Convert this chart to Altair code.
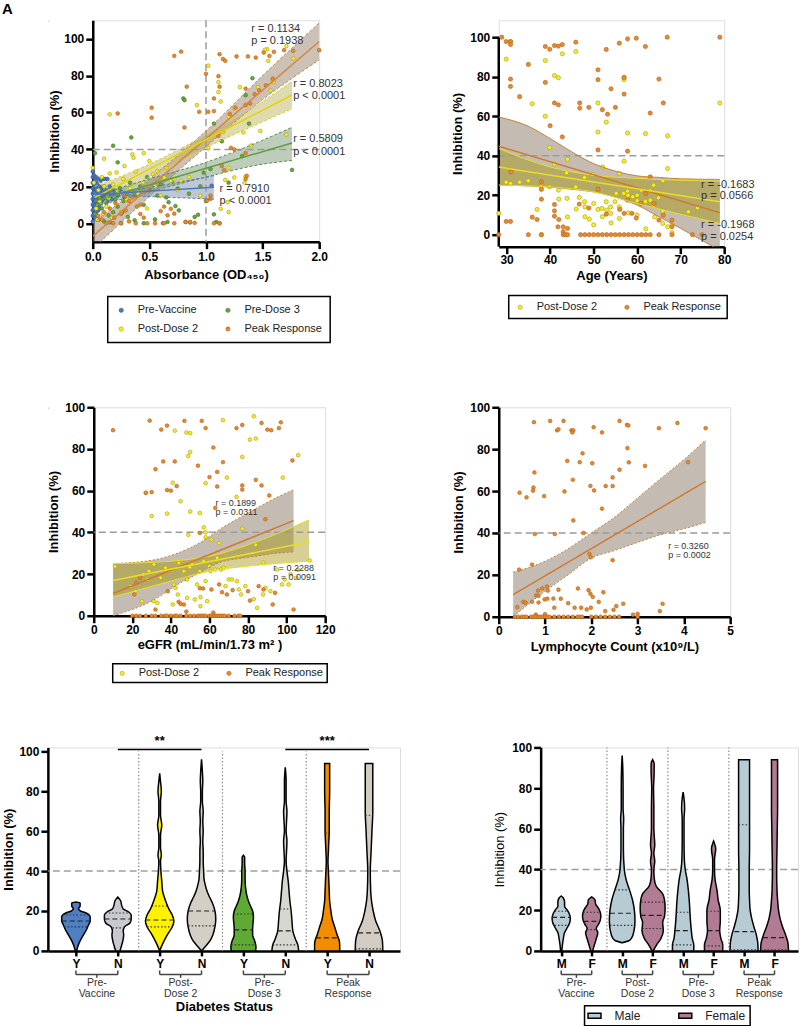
import altair as alt
import pandas as pd

FONT = "Arial"

# ---------------- Panel A : inhibition vs absorbance ----------------
A_PRE_VACCINE = [
    (0.00, 28), (0.00, 25), (0.00, 22), (0.00, 19), (0.00, 16), (0.00, 13), (0.00, 10), (0.00, 7), (0.00, 4), (0.00, 1),
    (0.01, 26), (0.01, 21), (0.01, 17), (0.01, 14), (0.01, 11), (0.01, 8), (0.01, 5),
    (0.02, 24), (0.02, 20), (0.02, 15), (0.02, 12), (0.02, 9), (0.02, 3),
    (0.03, 25), (0.03, 22), (0.03, 18), (0.03, 16), (0.03, 13), (0.03, 6),
    (0.04, 21), (0.04, 17), (0.04, 14), (0.04, 10), (0.04, 2),
    (0.05, 24), (0.05, 19), (0.05, 15), (0.05, 12), (0.05, 7),
    (0.06, 20), (0.06, 16), (0.06, 13), (0.06, 9),
    (0.07, 23), (0.07, 18), (0.07, 14), (0.07, 11),
    (0.08, 19), (0.08, 15), (0.08, 12), (0.09, 24), (0.09, 17), (0.09, 13),
    (0.10, 20), (0.10, 16), (0.11, 14), (0.11, 24), (0.12, 18), (0.12, 15), (0.13, 24), (0.13, 12),
    (0.14, 17), (0.15, 20), (0.16, 15), (0.17, 13), (0.18, 18), (0.20, 16), (0.22, 15), (0.25, 17), (0.28, 14),
    (0.75, 18.7), (1.05, 20.3)]
A_PRE_DOSE3 = [
    (0.02, 38), (0.18, 42), (0.34, 46.5), (0.22, 33), (0.80, 67.6), (0.81, 66.7), (1.41, 78.6), (1.35, 69.4),
    (1.38, 54), (1.07, 54), (1.14, 44.4), (1.32, 36.4), (1.04, 29.4), (0.98, 27.4), (1.76, 28.9), (1.07, 4.8),
    (1.09, 0.7), (1.12, 0), (0.57, 15), (0.67, 11.4), (0.55, 2.1), (0.66, 0.7), (0.73, 9.3), (0.76, 7),
    (0.82, 0.7), (0.86, 0.4), (0.90, 3.4), (0.93, 4.6), (0.37, 1.6), (0.31, 3.4), (0.26, 6), (0.14, 4.3),
    (0.02, 5), (0.04, 10), (0.05, 2), (0.06, 14), (0.08, 8), (0.10, 1), (0.12, 11), (0.15, 18), (0.18, 6),
    (0.20, 13), (0.22, 9), (0.24, 19), (0.27, 12), (0.30, 16), (0.33, 22), (0.38, 15), (0.42, 20), (0.45, 10),
    (0.48, 25), (0.50, 18), (0.60, 21), (0.65, 14), (0.70, 23), (0.85, 16), (0.95, 20), (1.00, 12), (1.20, 22),
    (0.45, 0), (0.62, 0), (0.25, 0), (0.15, 0.5)]
A_POST_DOSE2 = [
    (0.15, 59), (0.21, 27.5), (0.35, 37.3), (0.36, 35.5), (0.45, 38), (0.50, 33.7), (0.53, 26.6), (0.57, 28.3),
    (0.63, 24.8), (0.69, 23), (0.72, 23.9), (0.78, 23), (1.02, 85.4), (1.11, 76.5), (1.11, 71.1), (0.92, 64),
    (1.13, 66), (1.02, 40.8), (1.25, 62.2), (1.30, 73.8), (1.46, 73.8), (1.54, 94.3), (1.71, 96), (1.60, 76.5),
    (1.57, 72), (1.77, 89.3), (1.48, 50), (1.71, 48), (1.25, 24.8), (1.20, 30), (1.13, 7.8), (1.19, 11.4),
    (1.52, 94), (1.55, 88), (1.59, 77.4), (1.20, 57.8), (1.15, 49.4), (1.33, 49.2), (1.40, 42.2), (1.17, 23.5),
    (1.34, 22), (1.35, 25.3), (1.20, 6),
    (0.00, 30), (0.01, 22), (0.02, 15), (0.03, 8), (0.04, 2), (0.05, 18), (0.06, 12), (0.08, 25), (0.09, 5),
    (0.10, 20), (0.12, 9), (0.13, 14), (0.15, 27), (0.17, 3), (0.18, 21), (0.20, 11), (0.22, 17), (0.25, 6),
    (0.27, 24), (0.30, 13), (0.33, 19), (0.40, 16), (0.45, 22), (0.48, 8), (0.55, 20), (0.60, 15), (0.65, 30),
    (0.75, 18), (0.85, 25), (0.95, 15), (0.38, 28), (0.28, 31), (0.10, 35)]
A_PEAK = [
    (0.72, 90.7), (0.78, 93), (1.00, 81), (0.83, 74), (1.02, 60.4), (0.94, 60.4), (0.52, 62.6), (0.52, 57.2),
    (0.22, 59.5), (0.81, 51.9), (1.12, 91.6), (1.15, 89), (1.17, 88), (1.27, 90.4), (1.37, 90.4), (1.44, 89.8),
    (1.51, 92.5), (1.56, 90.7), (1.60, 92.9), (1.69, 93.8), (1.77, 93.4), (2.00, 93.8), (1.11, 79.7), (1.12, 74),
    (1.35, 72.9), (1.47, 72), (1.53, 74.7), (1.07, 67.6), (1.26, 62.6), (1.35, 64), (1.39, 64.9), (1.11, 47.4),
    (1.22, 40.8), (1.25, 40), (1.35, 38), (1.36, 25.7), (1.35, 23.9), (1.14, 31), (1.04, 15), (1.04, 13.2),
    (0.82, 0.7), (0.86, 0.7), (0.90, 0.2), (1.07, 0), (1.12, 0), (0.60, 6.6), (0.63, 9), (0.69, 7.8), (0.72, 5.2),
    (0.66, 4.3), (0.55, 0), (0.63, 0), (0.72, 0), (0.42, 5), (0.45, 3), (0.48, 0), (0.38, 0), (0.32, 1), (0.25, 0),
    (0.18, 0), (0.12, 0), (0.08, 2), (0.32, 12), (0.35, 14), (0.39, 9), (0.29, 7), (0.25, 5), (0.19, 3), (0.15, 8),
    (0.10, 6), (0.05, 4), (0.20, 11), (0.28, 15), (0.35, 17), (0.42, 10), (1.59, 78.3), (1.43, 69.9), (1.21, 59.2),
    (1.07, 60.8), (1.16, 28.7), (1.01, 12.3)]
A_SERIES = ["Pre-Vaccine", "Pre-Dose 3", "Post-Dose 2", "Peak Response"]
A_FILLS = ["#4c78c0", "#67a540", "#f5ef1f", "#e8892b"]
A_STROKES = ["#2f5596", "#3f7a25", "#a79e12", "#b4621a"]
# regression fits (x, y) and confidence bands (x, lower, upper)
A_FIT_PREVAC = [(0.0, 15.5), (1.07, 19.5)]
A_BAND_PREVAC = [(0.0, 14.5, 16.5), (0.3, 14.8, 17.5), (0.6, 14.2, 20.5), (1.07, 13.0, 25.8)]
A_FIT_PRED3 = [(0.02, 12.0), (1.76, 43.5)]
A_BAND_PRED3 = [(0.02, 9, 15), (0.5, 17, 24), (1.0, 25, 33), (1.5, 32, 45), (1.76, 34, 52)]
A_FIT_POST2 = [(0.02, 14.0), (1.76, 69.5)]
A_BAND_POST2 = [(0.02, 9, 20), (0.5, 25, 32), (1.0, 41, 48), (1.5, 55, 66), (1.76, 62, 77)]
A_FIT_PEAK = [(0.0, -7.0), (2.0, 98.5)]
A_BAND_PEAK = [(0.0, -14, 0), (0.5, 14.5, 24), (1.0, 41.5, 50), (1.5, 67, 80), (2.0, 88.5, 108.5)]
A_NOTES = [("r = 0.1134", 1.40, 105.3), ("p = 0.1938", 1.40, 99.0), ("r = 0.8023", 1.77, 75.4),
           ("p < 0.0001", 1.77, 69.0), ("r = 0.5809", 1.77, 45.5), ("p < 0.0001", 1.77, 38.5),
           ("r = 0.7910", 1.12, 18.7), ("p < 0.0001", 1.12, 12.3)]

# ---------------- Panel B : inhibition vs age ----------------
B_POST_DOSE2 = [
    (29.9, 88.9), (30.9, 97.8), (38.9, 88.2), (42.8, 91.6), (45.9, 92.8), (41, 80.6), (41.9, 79.5), (57, 79.8),
    (57, 78.5), (35.9, 66.3), (51, 66.7), (79, 66.7), (38.9, 60), (52.9, 57), (39.9, 44.1), (51, 52), (57.8, 51.5),
    (61.9, 51.2), (67, 50), (44, 38.2), (57, 37.2), (67, 33.5), (41, 35.7), (43.8, 31.3), (47.9, 29), (49.8, 30.5),
    (52.1, 34.3), (55.9, 31), (65.9, 27.3), (63.8, 25.1), (71.8, 11.6), (73.9, 13.6),
    (29.9, 26.6), (30.9, 25.9), (33, 26.6), (35, 27.3), (38, 24.2), (39.9, 24.2), (41.9, 22.6), (43.9, 18.4),
    (45.9, 24.2), (46.7, 18.9), (47.9, 16.7), (48, 14.1), (48, 9.1), (49, 7.9), (50, 15.8), (51, 12.8), (51.9, 13.3),
    (52, 9.1), (52.9, 16.7), (53, 12.5), (53.9, 14.1), (53.9, 10.8), (54.9, 16.7), (55.2, 20.9), (55.9, 14.1),
    (55.9, 8.2), (56.9, 20.9), (57.8, 22), (57.9, 20), (59, 19.2), (60, 20), (60, 17.2), (61, 22.6), (61.9, 16.7),
    (63, 17.5), (63, 22.2), (63.8, 15), (64.9, 18.7), (65.9, 12), (65.9, 5.7), (67, 4), (68, 4.9),
    (28.2, 10.8), (38, 0), (37, 12.8), (42, 18), (44, 9), (46, 13), (50, 5), (54, 6), (58, 11), (60, 10), (62, 3),
    (64, 9), (68, 1)]
B_PEAK = [
    (28.9, 100), (29.9, 97.8), (30.9, 97.8), (30.9, 96.3), (38.9, 95.3), (39.9, 93.9), (41, 95.8), (41.9, 95.5),
    (42.8, 96.3), (45.9, 97.5), (57.8, 99.2), (59.8, 99.5), (52.9, 93.8), (55.9, 97), (61.9, 95.3), (66.9, 100),
    (79, 100), (35, 86.2), (30.9, 78.8), (30.9, 75.1), (38.9, 77.1), (33, 69.9), (41, 66.7), (41.9, 65.8),
    (46.8, 66.7), (46.8, 64.1), (48.9, 64.5), (51, 83.5), (51, 78.5), (53.2, 61), (52, 63.3), (54, 73.9), (55, 64.5),
    (57, 79.5), (57, 71.2), (63, 61.6), (65, 78.8), (66, 66.7), (40, 55.2), (42.8, 49.5), (51, 42.9), (57.8, 42.3),
    (31, 31.8), (38, 26.8), (38, 22.9), (38, 18), (41, 15.3), (41, 12.1), (41, 9.4), (42, 7.7), (37, 7.7), (35.9, 8.9),
    (29.9, 6.7), (30.9, 6.7), (46.7, 15.5), (48.9, 13.5), (51, 23), (52.9, 10.4), (56, 12.8), (57, 10.8), (57.8, 17.5),
    (58.8, 10.8), (59.8, 8.4), (60.9, 15.8), (62, 20.9), (63.9, 15.8), (65, 7.4), (66, 9.9), (68, 7.4), (68, 4),
    (63, 29.3), (41.8, 4), (43, 4), (44, 3.2), (43, 1.5),
    (28.2, 0), (35, 0), (38, 0), (43, 0), (43.5, 0), (44, 0), (47, 0), (48, 0), (49, 0), (50, 0), (51, 0), (52, 0),
    (53, 0), (54, 0), (55, 0), (56, 0), (57, 0), (58, 0), (59, 0), (60, 0), (61, 0), (62, 0), (63, 0), (65, 0),
    (68, 0), (72.7, 0), (74.9, 0)]
B_FIT_PEAK = [(28.2, 44.8), (79, 11.1)]
B_BAND_PEAK = [(28.2, 25.2, 59.6), (35, 24.7, 54.9), (40, 24.1, 48.7), (45, 23.0, 41.9), (50, 21.7, 36.0),
               (55, 19.0, 32.2), (60, 15.0, 29.8), (65, 9.1, 29.0), (70, 3.2, 28.3), (79, -8.0, 28.0)]
B_FIT_POST2 = [(28.2, 34.3), (79, 16.7)]
B_BAND_POST2 = [(28.2, 25.1, 43.6), (40, 24.2, 34.3), (50, 21.7, 30.1), (60, 15.8, 28.5), (79, 5.7, 27.1)]
B_NOTES = [("r = -0.1683", 74.7, 25.3), ("p = 0.0566", 74.7, 19.7),
           ("r = -0.1968", 74.7, 5.0), ("p = 0.0254", 74.7, -1.0)]

# ---------------- Panel C : inhibition vs eGFR ----------------
C_POST_DOSE2 = [
    (83, 95.7), (67, 93.8), (42, 88.8), (48, 87.9), (50, 87.6), (81, 84.5), (84, 85), (77, 76.2), (106, 77), (50, 78.5),
    (49, 76.6), (69, 66.3), (98, 66.3), (58, 63.6), (41, 63.8), (27, 58.9), (45, 54.9), (38, 49), (50, 50), (55, 49.3),
    (30, 47.8), (74, 57), (57, 42.4), (49, 38.8), (58, 37.6), (61, 36.5), (65, 34.8), (84, 34), (88, 25.5), (102, 20),
    (99, 17.4), (106, 22), (112, 26.5), (11, 23.7),
    (19.1, 14.2), (21.7, 11.8), (25.7, 19.8), (27.8, 17.4), (28.6, 21.4), (31.2, 24.6), (34.7, 18.2), (37.2, 23),
    (39.5, 22), (41.6, 15), (42.4, 13.4), (44.1, 25.4), (46.7, 21.4), (48.4, 17.4), (49.8, 23.3), (51, 24.6),
    (53.6, 15), (55, 21.4), (57, 26.2), (58, 16.6), (60, 23.8), (60.5, 21.4), (63, 22.2), (64, 27.8), (66, 22.2),
    (67.4, 23), (68.3, 14.2), (70, 17.4), (71.7, 17.4), (74.3, 16.6), (75.2, 12.6), (76.4, 10.2), (78.6, 14.2),
    (83, 8), (84.7, 3.8), (87.8, 10.2), (89, 13.4), (91.6, 11.8), (95, 22.2), (97.6, 15), (101, 15), (105, 18.2),
    (25, 7), (31, 7), (33, 6.2), (41, 5.4), (43.6, 10.2), (48.4, 8.6), (52.4, 7.8), (55.3, 8.9), (58.8, 7), (55.3, 4.6),
    (77, 41.8), (58, 40)]
C_PEAK = [
    (10, 89), (29, 93.6), (35, 89.3), (38, 91.2), (47, 93.5), (56, 93.5), (58, 90), (74, 90), (77, 91.5), (87, 92.5),
    (90, 89.3), (92, 89), (97, 92.8), (96, 90), (36, 74), (42, 74), (32, 70.3), (54, 72), (62, 80.7), (67, 73.7),
    (64, 69), (60, 66.5), (64, 62), (77, 62.5), (77, 60.5), (87, 62.5), (84, 65.2), (103, 74.5), (30, 59.3), (27, 59),
    (38, 60.3), (40, 60), (43, 62.2), (63, 51.7), (89, 46.3), (91, 57.7), (55, 39.7), (21, 10.2), (22, 15.8), (24, 18.2),
    (38.4, 11.8), (44, 6.7), (45, 5.7), (46.7, 5.4), (55, 13.2), (56.7, 13.1), (61, 12.6), (66.5, 11.3), (65, 15),
    (69, 10.2), (72, 12.3), (80, 11.8), (81, 7.3), (85.5, 14.2), (88, 12.6), (92.8, 5.4), (94, 11), (103.6, 3),
    (32, 3), (48, 2), (62, 1.5),
    (20, 0), (22, 0), (24, 0), (27, 0), (30, 0), (32, 0), (35, 0), (37, 0), (38, 0), (40, 0), (42, 0), (43, 0), (45, 0),
    (48, 0), (50, 0), (52, 0), (54, 0), (55, 0), (56, 0), (57, 0), (58, 0), (60, 0), (61, 0), (62, 0), (63, 0), (64, 0),
    (65, 0), (66, 0), (67, 0), (68, 0), (70, 0), (73, 0), (75, 0), (76, 0)]
C_FIT_PEAK = [(10, 10.7), (103.6, 45.6)]
C_BAND_PEAK = [(10, 0, 25), (30, 7, 26.6), (45, 15.8, 30.6), (55, 20.6, 35), (65, 25.4, 41.3), (80, 28, 49.3),
               (95, 30, 56.8), (103.6, 30.6, 60.4)]
C_FIT_POST2 = [(10, 16.9), (111.6, 35.4)]
C_BAND_POST2 = [(10, 9, 25), (40, 16.6, 26.2), (60, 21.4, 28.5), (80, 23.8, 34), (111.6, 26.2, 46)]
C_NOTES = [("r = 0.1899", 63.1, 54.0), ("p = 0.0311", 63.1, 49.8),
           ("r = 0.2288", 93.1, 23.0), ("p = 0.0091", 93.1, 18.7)]

# ---------------- Panel D : inhibition vs lymphocyte count ----------------
D_PEAK = [
    (0.76, 92.9), (1.11, 93.5), (1.40, 93.5), (1.26, 89), (1.29, 89.5), (1.57, 89), (1.61, 89), (1.59, 88), (2.05, 90.5),
    (2.23, 88), (2.61, 93.5), (2.77, 91.6), (2.80, 91.3), (3.46, 90), (3.86, 92.5), (4.47, 90), (1.81, 78), (2.78, 80.5),
    (1.48, 74.4), (1.75, 73.8), (2.02, 73.3), (2.81, 73.7), (3.16, 72), (4.09, 73.8), (2.61, 70.2), (0.77, 68.9),
    (1.60, 65.4), (2.46, 66.5), (1.98, 62.5), (2.06, 60.3), (2.31, 62.4), (2.46, 62.4), (0.75, 61.7), (0.74, 60.2),
    (1.42, 59.8), (0.45, 59.2), (0.60, 57), (0.98, 57.6), (2.23, 51.6), (1.61, 46), (0.78, 39.5), (1.21, 39.5),
    (1.83, 40), (1.96, 30), (1.99, 28.4), (2.46, 27), (0.44, 22.5), (0.72, 24.9),
    (0.94, 13.5), (1.04, 14.4), (1.06, 12.5), (0.85, 12.5), (0.81, 10.2), (0.86, 10), (1.29, 12.9), (1.71, 13.5),
    (1.94, 12.7), (1.98, 11), (2.03, 9.5), (2.26, 11.7), (0.53, 7.1), (0.58, 6.7), (0.72, 7.1), (0.86, 6.8), (0.99, 8.3),
    (1.05, 8.6), (1.18, 8.7), (1.34, 8.6), (1.20, 4.3), (0.40, 4.6), (1.50, 6.5), (1.64, 4.3), (1.78, 4.3), (1.90, 3.5),
    (1.99, 4.3), (2.16, 7.1), (2.30, 2.7), (2.48, 3.3), (2.54, 5.1), (2.69, 6.2), (3.48, 2.7), (3.54, 6.2), (3.00, 1.4),
    (0.80, 1), (1.00, 1.2), (2.90, 1),
    (0.35, 0), (0.42, 0), (0.50, 0), (0.55, 0), (0.60, 0), (0.70, 0), (0.75, 0), (0.80, 0), (0.85, 0), (0.90, 0),
    (0.95, 0), (1.00, 0), (1.05, 0), (1.10, 0), (1.20, 0), (1.30, 0), (1.40, 0), (1.50, 0), (1.60, 0), (1.70, 0),
    (1.75, 0), (1.80, 0), (2.00, 0), (2.10, 0), (2.20, 0), (2.30, 0), (2.40, 0), (2.50, 0), (2.60, 0), (3.00, 0)]
D_FIT = [(0.31, 10.6), (4.47, 64.6)]
D_BAND = [(0.31, 0, 21.3), (1.0, 12.2, 26.5), (1.5, 20, 32.5), (2.0, 28, 40), (2.5, 31.6, 47.5), (3.0, 35.5, 56.7),
          (3.5, 39.2, 66), (4.0, 42, 75), (4.47, 45, 84.4)]
D_NOTES = [("r = 0.3260", 3.66, 33.8), ("p = 0.0002", 3.66, 29.5)]

# ---------------- Panels E / F : violins (y %, half width in category units) ----------------
E_IDS = ["Pre-Vaccine Y", "Pre-Vaccine N", "Post-Dose 2 Y", "Post-Dose 2 N",
         "Pre-Dose 3 Y", "Pre-Dose 3 N", "Peak Response Y", "Peak Response N"]
E_COLORS = ["#4f7fc3", "#c8c8cf", "#fff100", "#d3cfc5", "#5faa33", "#d4d8ce", "#f28c00", "#d3ccc3"]
E_PV_Y = [(0, 0), (0.5, .02), (2, .04), (5, .10), (8, .18), (11, .26), (13, .30), (15, .34), (17, .34), (19, .24),
          (20, .11), (21, .06), (22.5, .10), (24, .10), (24.5, 0)]
E_PV_N = [(0, .05), (2, .08), (5, .12), (8, .14), (10, .13), (12, .16), (14, .29), (16, .32), (18, .32), (19.5, .26),
          (21, .13), (23, .09), (25, .07), (27, 0)]
E_PD2_Y = [(0, 0), (3, .06), (6, .13), (9, .21), (12, .30), (15, .34), (18, .30), (21, .22), (24, .16), (27, .11),
           (30, .07), (35, .05), (40, .03), (45, .02), (48, .04), (52, .02), (58, .02), (63, .05), (68, .02), (75, .02),
           (80, .04), (85, .02), (89, 0)]
E_PD2_N = [(0, 0), (2, .08), (5, .20), (8, .27), (12, .32), (16, .34), (20, .32), (24, .26), (27, .19), (30, .13),
           (33, .09), (36, .06), (40, .05), (45, .04), (50, .04), (55, .03), (60, .04), (65, .03), (70, .04), (75, .02),
           (80, .02), (85, .03), (90, .02), (96, 0)]
E_PD3_Y = [(0, .29), (2, .30), (5, .27), (8, .22), (11, .22), (14, .23), (17, .24), (20, .22), (22, .18), (25, .12),
           (28, .08), (32, .05), (36, .04), (40, .04), (44, .03), (47, .03), (48, 0)]
E_PD3_N = [(0, .32), (3, .30), (6, .24), (10, .18), (15, .16), (20, .14), (25, .11), (30, .09), (35, .07), (40, .04),
           (45, .02), (50, .03), (55, .04), (60, .02), (65, .03), (70, .04), (75, .02), (80, .02), (85, .02), (92, 0)]
E_PK_Y = [(0, .30), (3, .30), (5, .29), (8, .24), (12, .18), (16, .12), (20, .09), (25, .06), (30, .05), (35, .04),
          (40, .03), (45, .02), (50, .03), (55, .04), (60, .05), (70, .05), (80, .06), (90, .06), (94, .06)]
E_PK_N = [(0, .33), (5, .32), (10, .26), (15, .16), (20, .10), (25, .06), (30, .04), (40, .03), (50, .05), (60, .07),
          (70, .09), (80, .09), (90, .09), (94, .09)]
E_VIOLINS = [E_PV_Y, E_PV_N, E_PD2_Y, E_PD2_N, E_PD3_Y, E_PD3_N, E_PK_Y, E_PK_N]
# (category position, y, half width, kind)  m = median (dashed), q = quartile (dotted)
E_QUART = [(1, 12, .28, "q"), (1, 15, .34, "m"), (1, 18, .32, "q"),
           (2, 11.5, .13, "q"), (2, 16, .32, "m"), (2, 19, .30, "q"),
           (3, 12, .30, "q"), (3, 15.5, .34, "m"), (3, 22.5, .19, "q"),
           (4, 12.5, .32, "q"), (4, 20, .32, "m"),
           (5, 3, .29, "q"), (5, 10.5, .22, "m"), (5, 18.5, .24, "q"),
           (6, 3, .30, "q"), (6, 10, .18, "m"), (6, 21, .13, "q"),
           (7, 6.5, .27, "m"), (7, 59, .05, "q"),
           (8, 1, .33, "q"), (8, 9, .26, "m"), (8, 68, .09, "q")]
E_SIG = [(2, 4, "**"), (6, 8, "***")]

F_IDS = ["Pre-Vaccine M", "Pre-Vaccine F", "Post-Dose 2 M", "Post-Dose 2 F",
         "Pre-Dose 3 M", "Pre-Dose 3 F", "Peak Response M", "Peak Response F"]
F_SEX = ["Male", "Female", "Male", "Female", "Male", "Female", "Male", "Female"]
F_COLORS = ["#b6cbd3", "#b07b93"]
F_PV_M = [(0, .02), (3, .04), (6, .07), (9, .11), (12, .22), (14, .28), (16, .30), (18, .27), (20, .20), (22, .11),
          (24, .11), (26, .07), (27, 0)]
F_PV_F = [(0, .03), (3, .09), (6, .15), (9, .20), (11, .15), (13, .22), (15, .28), (17, .30), (19, .28), (21, .22),
          (23, .13), (25, .11), (26.5, 0)]
F_PD2_M = [(4, 0), (5, .22), (6, .30), (10, .39), (15, .42), (20, .40), (25, .34), (30, .24), (35, .13), (40, .07),
           (50, .04), (60, .04), (65, .05), (70, .03), (80, .03), (90, .02), (96, 0)]
F_PD2_F = [(0, .02), (3, .13), (6, .27), (10, .35), (14, .33), (17, .39), (21, .41), (25, .39), (28, .33), (32, .11),
           (36, .05), (40, .04), (44, .07), (48, .04), (52, .07), (60, .04), (70, .04), (80, .03), (88, .05), (92, .05),
           (94, 0)]
F_PD3_M = [(0, .35), (3, .35), (6, .30), (10, .27), (15, .24), (20, .22), (25, .20), (30, .17), (35, .13), (40, .07),
           (45, .04), (55, .03), (65, .03), (70, .05), (75, .03), (78, 0)]
F_PD3_F = [(0, .30), (3, .30), (6, .24), (10, .20), (15, .22), (20, .22), (25, .15), (30, .11), (35, .05), (40, .03),
           (45, .03), (50, .07), (54, 0)]
F_PK_M = [(0, .46), (4, .45), (8, .40), (12, .32), (16, .25), (20, .20), (25, .18), (30, .17), (40, .17), (50, .18),
          (60, .18), (70, .18), (80, .18), (90, .18), (94, .18)]
F_PK_F = [(0, .46), (4, .44), (8, .36), (12, .26), (16, .18), (20, .13), (25, .10), (30, .08), (40, .07), (50, .08),
          (60, .09), (70, .10), (80, .10), (90, .10), (94, .10)]
F_VIOLINS = [F_PV_M, F_PV_F, F_PD2_M, F_PD2_F, F_PD3_M, F_PD3_F, F_PK_M, F_PK_F]
F_QUART = [(1, 12.5, .22, "q"), (1, 16.5, .30, "m"), (1, 19.5, .22, "q"),
           (2, 10.5, .16, "q"), (2, 14.5, .27, "m"), (2, 19, .28, "q"),
           (3, 12.5, .40, "q"), (3, 18.5, .40, "m"), (3, 30, .24, "q"),
           (4, 11, .34, "q"), (4, 17.5, .39, "m"), (4, 24, .38, "q"),
           (5, 3, .35, "q"), (5, 10, .27, "m"), (5, 19, .22, "q"),
           (6, 2.5, .30, "q"), (6, 10, .20, "m"), (6, 19.5, .22, "q"),
           (7, 0.5, .46, "q"), (7, 9.5, .32, "m"), (7, 62, .18, "q"),
           (8, 0.5, .46, "q"), (8, 6.5, .38, "m")]
GROUP_LABELS = [("Pre-", "Vaccine"), ("Post-", "Dose 2"), ("Pre-", "Dose 3"), ("Peak", "Response")]
DIVIDERS = [2.5, 4.5, 6.5]
PCT_TICKS = [0, 20, 40, 60, 80, 100]


# ---------------- helpers ----------------
def axis(title, values, fmt=None, **kw):
    d = dict(title=title, values=values, grid=False, domainColor="black", domainWidth=2.5,
             tickColor="black", tickWidth=2.5, tickSize=7, labelFont=FONT, labelFontSize=12,
             labelFontWeight="bold", labelColor="black", labelFlush=False, labelOverlap=False,
             labelPadding=2, titleFont=FONT, titleFontSize=13, titleFontWeight="bold", titleColor="black")
    if fmt:
        d["format"] = fmt
    d.update(kw)
    return alt.Axis(**d)


def enc(X, Y, xf="x:Q", yf="y:Q"):
    return dict(x=alt.X(xf, scale=X[0], axis=X[1]), y=alt.Y(yf, scale=Y[0], axis=Y[1]))


def df_xy(pairs, **extra):
    d = pd.DataFrame({"x": [p[0] for p in pairs], "y": [p[1] for p in pairs]})
    for k, v in extra.items():
        d[k] = v
    return d


def band_layers(rows, X, Y, fill, op, edge, dash):
    d = pd.DataFrame({"x": [r[0] for r in rows], "lo": [r[1] for r in rows], "hi": [r[2] for r in rows]})
    area = alt.Chart(d).mark_area(fill=fill, opacity=op, clip=True, interpolate="monotone").encode(
        **enc(X, Y, yf="lo:Q"), y2="hi:Q")
    lk = dict(color=edge, strokeWidth=1, clip=True, interpolate="monotone")
    if dash:
        lk["strokeDash"] = dash
    lo = alt.Chart(d).mark_line(**lk).encode(**enc(X, Y, yf="lo:Q"))
    hi = alt.Chart(d).mark_line(**lk).encode(**enc(X, Y, yf="hi:Q"))
    return area, [lo, hi]


def fit_layer(pairs, X, Y, color):
    return alt.Chart(df_xy(pairs)).mark_line(color=color, strokeWidth=1.5, clip=True).encode(**enc(X, Y))


def hline(val, Y, color="#9b9b9b"):
    return alt.Chart(pd.DataFrame({"y": [val]})).mark_rule(
        color=color, strokeDash=[7, 4], strokeWidth=1.5).encode(y=alt.Y("y:Q", scale=Y[0], axis=Y[1]))


def vline(val, X):
    return alt.Chart(pd.DataFrame({"x": [val]})).mark_rule(
        color="#9b9b9b", strokeDash=[7, 4], strokeWidth=1.5).encode(x=alt.X("x:Q", scale=X[0], axis=X[1]))


def notes_layer(notes, X, Y, size):
    d = pd.DataFrame({"t": [n[0] for n in notes], "x": [n[1] for n in notes], "y": [n[2] for n in notes]})
    return alt.Chart(d).mark_text(align="left", baseline="middle", fontSize=size, font=FONT,
                                  color="#333333").encode(**enc(X, Y), text="t:N")


def points_layer(frames, X, Y, dom, fills, strokes, legend, size):
    d = pd.concat(frames, ignore_index=True)
    return alt.Chart(d).mark_circle(size=size, opacity=1, strokeWidth=0.6).encode(
        **enc(X, Y),
        fill=alt.Fill("series:N", scale=alt.Scale(domain=dom, range=fills), legend=legend),
        stroke=alt.Stroke("series:N", scale=alt.Scale(domain=dom, range=strokes), legend=None))


def marker(x, y0, y1):
    # invisible layout anchor (fixes the panel's outer bounds)
    return alt.Chart(pd.DataFrame({"m": [0]})).mark_rule(strokeOpacity=0).encode(
        x=alt.value(x), y=alt.value(y0), y2=alt.value(y1))


def spacer():
    return alt.Chart(pd.DataFrame({"m": [0]})).mark_point(opacity=0).encode(
        x=alt.value(0), y=alt.value(0)).properties(width=1, height=1)


def scatter_legend(x, y, cols=None, pad=6):
    kw = dict(title=None, orient="none", legendX=x, legendY=y, direction="horizontal", symbolType="circle",
              symbolSize=18, symbolStrokeWidth=0.6, labelFont=FONT, labelFontSize=11, labelColor="#222222",
              strokeColor="black", fillColor="white", padding=pad, labelOffset=11, columnPadding=24, rowPadding=7)
    if cols:
        kw["columns"] = cols
    return alt.Legend(**kw)


def violin_layers(violins, ids, fill_vals, fill_dom, fill_range, legend, quart, X, Y,
                  top, mid, low, t1, t2):
    rows = []
    for i, prof in enumerate(violins):
        c = i + 1
        for (yv, w) in prof:
            rows.append({"vid": ids[i], "grp": fill_vals[i], "y": yv, "xl": c - w, "xr": c + w})
    vd = pd.DataFrame(rows)
    area = alt.Chart(vd).mark_area(orient="horizontal", stroke="black", strokeWidth=1.5,
                                   interpolate="monotone", opacity=1).encode(
        y=alt.Y("y:Q", scale=Y[0], axis=Y[1]), x=alt.X("xl:Q", scale=X[0], axis=X[1]), x2="xr:Q",
        fill=alt.Fill("grp:N", scale=alt.Scale(domain=fill_dom, range=fill_range), legend=legend),
        detail="vid:N")
    qd = pd.DataFrame({"ql": [q[0] - q[2] for q in quart], "qr": [q[0] + q[2] for q in quart],
                       "y": [q[1] for q in quart], "k": [q[3] for q in quart]})
    med = alt.Chart(qd[qd.k == "m"]).mark_rule(color="#222222", strokeWidth=1.2, strokeDash=[5, 3]).encode(
        **enc(X, Y, xf="ql:Q"), x2="qr:Q")
    qrt = alt.Chart(qd[qd.k == "q"]).mark_rule(color="#333333", strokeWidth=1.2, strokeDash=[1.5, 2]).encode(
        **enc(X, Y, xf="ql:Q"), x2="qr:Q")
    dv = pd.DataFrame({"x": DIVIDERS, "y": [0] * 3, "y2": [100] * 3})
    div = alt.Chart(dv).mark_rule(color="#8a8a8a", strokeWidth=1.2, strokeDash=[1.5, 2]).encode(
        **enc(X, Y), y2="y2:Q")
    br = []
    for k in range(4):
        a, b = 2 * k + 1, 2 * k + 2
        br += [dict(x=a, x2=a, y=top, y2=mid), dict(x=b, x2=b, y=top, y2=mid),
               dict(x=a, x2=b, y=mid, y2=mid), dict(x=(a + b) / 2, x2=(a + b) / 2, y=mid, y2=low)]
    brk = alt.Chart(pd.DataFrame(br)).mark_rule(color="#444444", strokeWidth=1.5).encode(
        **enc(X, Y), x2="x2:Q", y2="y2:Q")
    gl = []
    for k, (l1, l2) in enumerate(GROUP_LABELS):
        gl += [dict(x=2 * k + 1.5, y=t1, t=l1), dict(x=2 * k + 1.5, y=t2, t=l2)]
    gtx = alt.Chart(pd.DataFrame(gl)).mark_text(fontSize=10.5, font=FONT, color="#333333",
                                                baseline="middle").encode(**enc(X, Y), text="t:N")
    return [div, hline(40, Y, "#a0a0a0"), area, med, qrt, brk, gtx]


# ---------------- Panel A ----------------
AX = (alt.Scale(domain=[0, 2], nice=False, zero=False),
      axis("Absorbance (OD₄₅₀)", [0, 0.5, 1, 1.5, 2], fmt=".1f", titlePadding=6, labelPadding=3))
AY = (alt.Scale(domain=[-10, 110], nice=False, zero=False), axis("Inhibition (%)", PCT_TICKS, titlePadding=2))
a_bands = [band_layers(A_BAND_PEAK, AX, AY, "#8c7660", 0.45, "#c9894a", [3, 2]),
           band_layers(A_BAND_POST2, AX, AY, "#b8ae50", 0.45, "#d8cf3a", [3, 2]),
           band_layers(A_BAND_PRED3, AX, AY, "#6f8e6a", 0.45, "#5e8f4a", [3, 2]),
           band_layers(A_BAND_PREVAC, AX, AY, "#6f82a2", 0.45, "#5a78b0", [3, 2])]
a_points = points_layer([df_xy(A_PRE_VACCINE, series="Pre-Vaccine"), df_xy(A_PRE_DOSE3, series="Pre-Dose 3"),
                         df_xy(A_POST_DOSE2, series="Post-Dose 2"), df_xy(A_PEAK, series="Peak Response")],
                        AX, AY, A_SERIES, A_FILLS, A_STROKES, scatter_legend(15, 277, cols=2, pad=8), 14)
a_letter = alt.Chart(pd.DataFrame({"t": ["A"]})).mark_text(
    align="left", baseline="top", fontSize=15, fontWeight="bold", font=FONT, color="black").encode(
    x=alt.value(-91), y=alt.value(-18), text="t:N")
A = alt.layer(
    *[b[0] for b in a_bands], hline(40, AY), vline(1.0, AX), a_points,
    *[e for b in a_bands for e in b[1]],
    fit_layer(A_FIT_PEAK, AX, AY, "#d9843a"), fit_layer(A_FIT_POST2, AX, AY, "#e2d600"),
    fit_layer(A_FIT_PRED3, AX, AY, "#5d9e3a"), fit_layer(A_FIT_PREVAC, AX, AY, "#4c78c0"),
    notes_layer(A_NOTES, AX, AY, 11), a_letter, marker(-92, -18, 327)
).properties(width=227, height=222)

# ---------------- Panel B ----------------
BX = (alt.Scale(domain=[28.2, 80], nice=False, zero=False),
      axis("Age (Years)", [30, 40, 50, 60, 70, 80], titlePadding=4, labelPadding=1))
BY = (alt.Scale(domain=[-6.06, 108.6], nice=False, zero=False),
      axis("Inhibition (%)", PCT_TICKS, titlePadding=5, domain=False))
b_bands = [band_layers(B_BAND_PEAK, BX, BY, "#8a7a68", 0.5, "#c8823a", None),
           band_layers(B_BAND_POST2, BX, BY, "#a09000", 0.42, "#e8de20", None)]
b_yaxis = alt.Chart(pd.DataFrame({"x": [28.2], "y": [-6.06], "y2": [100]})).mark_rule(
    color="black", strokeWidth=2.5).encode(**enc(BX, BY), y2="y2:Q")
b_points = points_layer([df_xy(B_POST_DOSE2, series="Post-Dose 2"), df_xy(B_PEAK, series="Peak Response")],
                        BX, BY, ["Post-Dose 2", "Peak Response"], ["#f5ef1f", "#e8892b"], ["#a79e12", "#b4621a"],
                        scatter_legend(10, 276), 18)
B = alt.layer(
    *[b[0] for b in b_bands], hline(40, BY), b_yaxis, b_points, *[e for b in b_bands for e in b[1]],
    fit_layer(B_FIT_PEAK, BX, BY, "#d07a30"), fit_layer(B_FIT_POST2, BX, BY, "#e8de20"),
    notes_layer(B_NOTES, BX, BY, 11)
).properties(width=226, height=227)

# ---------------- Panel C ----------------
CX = (alt.Scale(domain=[0, 120], nice=False, zero=False),
      axis("eGFR (mL/min/1.73 m² )", [0, 20, 40, 60, 80, 100, 120], titlePadding=3))
CY = (alt.Scale(domain=[0, 100], nice=False, zero=False), axis("Inhibition (%)", PCT_TICKS, titlePadding=4))
c_bands = [band_layers(C_BAND_PEAK, CX, CY, "#8a7a68", 0.5, "#c8823a", [2, 2]),
           band_layers(C_BAND_POST2, CX, CY, "#a09000", 0.42, "#e8de20", None)]
c_points = points_layer([df_xy(C_POST_DOSE2, series="Post-Dose 2"), df_xy(C_PEAK, series="Peak Response")],
                        CX, CY, ["Post-Dose 2", "Peak Response"], ["#f5ef1f", "#e8892b"], ["#a79e12", "#b4621a"],
                        scatter_legend(19, 257, pad=4), 14)
C = alt.layer(
    *[b[0] for b in c_bands], hline(40, CY), c_points, *[e for b in c_bands for e in b[1]],
    fit_layer(C_FIT_PEAK, CX, CY, "#d07a30"), fit_layer(C_FIT_POST2, CX, CY, "#e8de20"),
    notes_layer(C_NOTES, CX, CY, 9), marker(-93, -20, 290)
).properties(width=232, height=209)

# ---------------- Panel D ----------------
DX = (alt.Scale(domain=[0, 5], nice=False, zero=False),
      axis("Lymphocyte Count (x10⁹/L)", [0, 1, 2, 3, 4, 5], titlePadding=4))
DY = (alt.Scale(domain=[0, 100], nice=False, zero=False), axis("Inhibition (%)", PCT_TICKS, titlePadding=4))
d_band = band_layers(D_BAND, DX, DY, "#8a7a68", 0.5, "#c8823a", [2, 2])
d_points = points_layer([df_xy(D_PEAK, series="Peak Response")], DX, DY, ["Peak Response"], ["#e8892b"],
                        ["#b4621a"], None, 14)
D = alt.layer(
    d_band[0], hline(40, DY), d_points, *d_band[1], fit_layer(D_FIT, DX, DY, "#d07a30"),
    notes_layer(D_NOTES, DX, DY, 9)
).properties(width=232, height=210)

# ---------------- Panel E ----------------
EX = (alt.Scale(domain=[0.33, 8.74], nice=False, zero=False),
      axis("Diabetes Status", [1, 2, 3, 4, 5, 6, 7, 8], labelExpr="datum.value % 2 == 1 ? 'Y' : 'N'",
           tickSize=5, labelPadding=3, titlePadding=31))
EY = (alt.Scale(domain=[0, 102], nice=False, zero=False), axis("Inhibition (%)", PCT_TICKS, titlePadding=3))
e_layers = violin_layers(E_VIOLINS, E_IDS, E_IDS, E_IDS, E_COLORS, None, E_QUART, EX, EY,
                         -9.8, -11.8, -13.5, -16.2, -21.8)
sig = pd.DataFrame({"x": [s[0] for s in E_SIG], "x2": [s[1] for s in E_SIG], "y": [101, 101],
                    "xm": [(s[0] + s[1]) / 2 for s in E_SIG], "ym": [105, 105], "t": [s[2] for s in E_SIG]})
e_sig_bar = alt.Chart(sig).mark_rule(color="black", strokeWidth=1.5).encode(**enc(EX, EY), x2="x2:Q")
e_sig_txt = alt.Chart(sig).mark_text(fontSize=13, fontWeight="bold", font=FONT, color="black",
                                     baseline="middle").encode(**enc(EX, EY, xf="xm:Q", yf="ym:Q"), text="t:N")
E = alt.layer(*e_layers, e_sig_bar, e_sig_txt, marker(-47, -20, 0)).properties(width=353, height=204)

# ---------------- Panel F ----------------
FX = (alt.Scale(domain=[0.325, 8.77], nice=False, zero=False),
      axis(None, [1, 2, 3, 4, 5, 6, 7, 8], labelExpr="datum.value % 2 == 1 ? 'M' : 'F'",
           tickSize=5, labelPadding=3))
FY = (alt.Scale(domain=[0, 100], nice=False, zero=False),
      axis("Inhibition (%)", PCT_TICKS, titlePadding=5, titleFontWeight="normal"))
f_legend = alt.Legend(title=None, orient="none", legendX=44, legendY=259, direction="horizontal",
                      symbolType="M-1.3,-0.5H1.3V0.5H-1.3Z", symbolSize=100, symbolStrokeColor="black",
                      symbolStrokeWidth=1.5, labelFont=FONT, labelFontSize=12, labelColor="#222222",
                      strokeColor="black", fillColor="white", padding=4, labelOffset=14, columnPadding=34)
f_layers = violin_layers(F_VIOLINS, F_IDS, F_SEX, ["Male", "Female"], F_COLORS, f_legend, F_QUART, FX, FY,
                         -9.6, -11.6, -13.2, -15.8, -21.4)
F = alt.layer(*f_layers).properties(width=258, height=204)

# ---------------- layout ----------------
IND = dict(fill="independent", stroke="independent")
pair1 = alt.hconcat(A, B, spacing=180, bounds="flush").resolve_scale(**IND)
pair2 = alt.hconcat(C, D, spacing=174, bounds="flush").resolve_scale(**IND)
row1 = alt.hconcat(spacer(), pair1, spacing=44, bounds="flush").resolve_scale(**IND)
row2 = alt.hconcat(spacer(), pair2, spacing=45, bounds="flush").resolve_scale(**IND)
row3 = alt.hconcat(E, F, spacing=141, bounds="flush").resolve_scale(**IND)
top = alt.vconcat(row1, row2, spacing=39).resolve_scale(**IND)
chart = alt.vconcat(top, row3, spacing=29, padding=0).resolve_scale(**IND)
chart = chart.configure_view(strokeWidth=0).configure(font=FONT).configure_legend(strokeWidth=1.5)

chart.save("out.html", embed_options={"renderer": "svg", "actions": False})
